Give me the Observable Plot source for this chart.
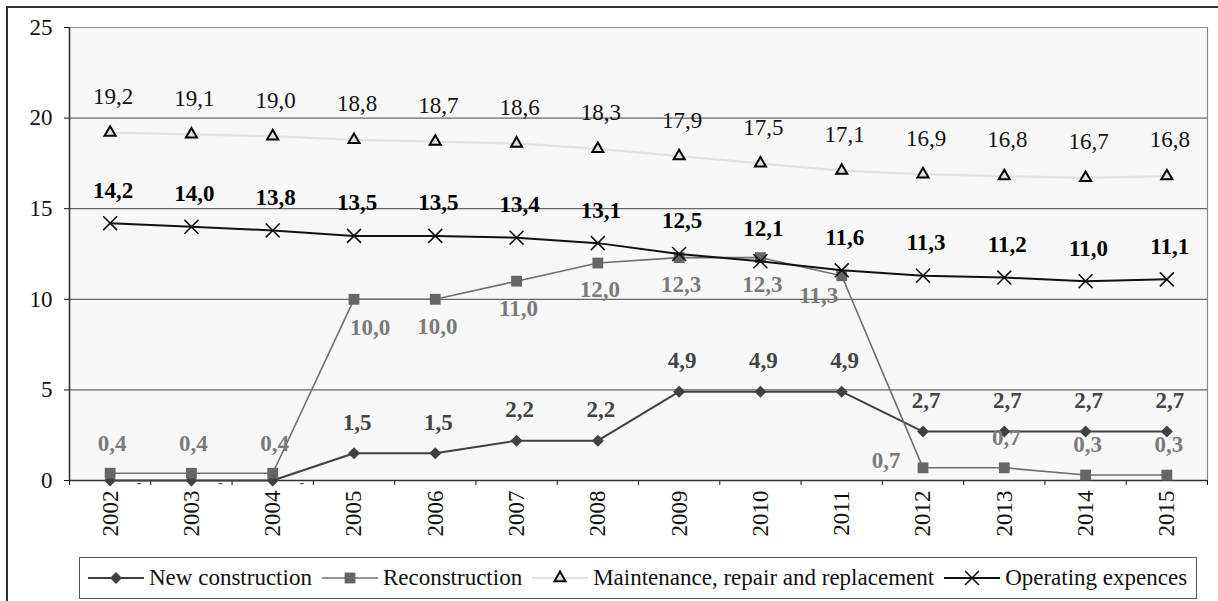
<!DOCTYPE html>
<html>
<head>
<meta charset="utf-8">
<script src="https://cdn.jsdelivr.net/npm/d3@7"></script>
<script src="https://cdn.jsdelivr.net/npm/@observablehq/plot@0.6"></script>
<style>
  html, body { margin: 0; padding: 0; background: #fff; overflow: hidden; }
  body { width: 1218px; height: 601px; position: relative; font-family: "Liberation Serif", "Times New Roman", serif; }
  #frame { position: absolute; left: 6px; top: 6px; width: 1300px; height: 700px; border-left: 2px solid #333; border-top: 2px solid #333; }
  #chart { position: absolute; left: 0; top: 0; }
  #legend { position: absolute; left: 79px; top: 557px; width: 1116px; height: 40px; border: 1px solid #555; background: #fff;
            display: flex; align-items: center; box-sizing: content-box; font-size: 23px; color: #111; white-space: nowrap; }
  .item { display: flex; align-items: center; margin-left: 8px; }
  .item svg { display: block; margin-right: 5px; }
  .item + .item { margin-left: 10px; }
</style>
</head>
<body>
<div id="frame"></div>
<div id="chart"></div>
<div id="legend"></div>
<script>
// Annual values by year (comma used as decimal separator in labels)
const years = [2002, 2003, 2004, 2005, 2006, 2007, 2008, 2009, 2010, 2011, 2012, 2013, 2014, 2015];
const newConstruction = [0, 0, 0, 1.5, 1.5, 2.2, 2.2, 4.9, 4.9, 4.9, 2.7, 2.7, 2.7, 2.7];
const reconstruction = [0.4, 0.4, 0.4, 10.0, 10.0, 11.0, 12.0, 12.3, 12.3, 11.3, 0.7, 0.7, 0.3, 0.3];
const maintenance = [19.2, 19.1, 19.0, 18.8, 18.7, 18.6, 18.3, 17.9, 17.5, 17.1, 16.9, 16.8, 16.7, 16.8];
const operating = [14.2, 14.0, 13.8, 13.5, 13.5, 13.4, 13.1, 12.5, 12.1, 11.6, 11.3, 11.2, 11.0, 11.1];
const seriesNames = ["New construction", "Reconstruction", "Maintenance, repair and replacement", "Operating expences"];
const yTicks = [0, 5, 10, 15, 20, 25];

const FONT = "Liberation Serif, Times New Roman, serif";
const fmt = v => d3.format(".1f")(v).replace(".", ",");
const rows = vals => years.map((year, i) => ({year, value: vals[i]}));

const nc = rows(newConstruction);
const mt = rows(maintenance);
const op = rows(operating);
// Reconstruction labels sit below the high plateau, and beside the points around the steep jumps
const rc = rows(reconstruction).map((d, i, a) => {
  const prev = i > 0 ? a[i - 1].value : d.value;
  const next = i < a.length - 1 ? a[i + 1].value : d.value;
  let place = "above";
  if (d.value - next > 5) place = "beforeDrop";
  else if (prev - d.value > 5) place = "afterDrop";
  else if (d.value - prev > 5) place = "afterRise";
  else if (d.value >= 10) place = "below";
  return {...d, place};
});

// Style of each series: line colour, marker symbol and marker look
const styles = [
  {line: "#404040", width: 2, symbol: "diamond2", r: 5.4, fill: "#404040", stroke: "none", sw: 0},
  {line: "#6e6e6e", width: 1.6, symbol: "square", r: 6.1, fill: "#666", stroke: "none", sw: 0},
  {line: "#e2e2e2", width: 2.2, symbol: "triangle2", r: 5.3, fill: "#e0e0e0", stroke: "#000", sw: 2},
  {line: "#111", width: 2, symbol: "times", r: 6.4, fill: "none", stroke: "#111", sw: 1.6}
];
const data = [nc, rc, mt, op];

const boundaries = d3.range(2001.5, 2016, 1);
const lab = {fontFamily: FONT, fontSize: 23};
const bold = {...lab, fontWeight: "bold"};

const marks = [
  Plot.frame({fill: "#f8f8f8", stroke: null}),
  Plot.ruleY([5, 10, 15, 20], {stroke: "#666", strokeWidth: 1.2}),
  Plot.ruleY([25], {stroke: "#888", strokeWidth: 1.2}),
  Plot.ruleX([2015.5], {stroke: "#888", strokeWidth: 1.2}),
  Plot.axisY({ticks: yTicks, tickSize: 5, tickPadding: 12, tickFormat: d => String(d), fontSize: 23, fontFamily: FONT, label: null}),
  Plot.axisX({ticks: boundaries, tickSize: 5, tickFormat: () => "", label: null}),
  Plot.axisX({ticks: years, tickSize: 0, tickPadding: 10, tickRotate: -90, tickFormat: d => String(d), fontSize: 23, fontFamily: FONT, label: null}),
  Plot.ruleX([2001.5], {stroke: "#333", strokeWidth: 1.6}),
  Plot.ruleY([0], {stroke: "#333", strokeWidth: 1.6})
];

data.forEach((rowsOf, k) => {
  const s = styles[k];
  marks.push(Plot.line(rowsOf, {x: "year", y: "value", stroke: s.line, strokeWidth: s.width}));
  marks.push(Plot.dot(rowsOf, {x: "year", y: "value", symbol: s.symbol, r: s.r, fill: s.fill, stroke: s.stroke, strokeWidth: s.sw}));
});

// Data labels
const grey = "#7a7a7a";
marks.push(
  Plot.text(mt, {x: "year", y: "value", text: d => fmt(d.value), dx: 3, dy: -36, fill: "#111", ...lab}),
  Plot.text(op, {x: "year", y: "value", text: d => fmt(d.value), dx: 3, dy: -33, fill: "#000", ...bold}),
  Plot.text(nc, {filter: d => d.value !== 0, x: "year", y: "value", text: d => fmt(d.value), dx: 3, dy: -31, fill: "#444", ...bold}),
  Plot.text(nc, {filter: d => d.value === 0, x: "year", y: "value", text: () => "-", dx: 29, dy: 2, fill: "#555", ...bold, fontSize: 14}),
  Plot.text(rc, {filter: d => d.place === "above", x: "year", y: "value", text: d => fmt(d.value), dx: 2, dy: -30, fill: grey, ...bold}),
  Plot.text(rc, {filter: d => d.place === "below", x: "year", y: "value", text: d => fmt(d.value), dx: 2, dy: 27, fill: grey, ...bold}),
  Plot.text(rc, {filter: d => d.place === "afterRise", x: "year", y: "value", text: d => fmt(d.value), dx: 16, dy: 28, fill: grey, ...bold}),
  Plot.text(rc, {filter: d => d.place === "beforeDrop", x: "year", y: "value", text: d => fmt(d.value), dx: -23, dy: 20, fill: grey, ...bold}),
  Plot.text(rc, {filter: d => d.place === "afterDrop", x: "year", y: "value", text: d => fmt(d.value), dx: -37, dy: -7, fill: grey, ...bold})
);

const chart = Plot.plot({
  width: 1218,
  height: 550,
  marginLeft: 69,
  marginRight: 11,
  marginTop: 27,
  marginBottom: 70,
  x: {type: "linear", domain: [2001.5, 2015.5], label: null},
  y: {domain: [0, 25], label: null},
  style: {fontFamily: FONT, fontSize: "23px", color: "#111", background: "transparent", overflow: "visible"},
  marks
});
document.getElementById("chart").appendChild(chart);

// Legend: line sample with the series marker, then the series name
const legend = d3.select("#legend");
seriesNames.forEach((name, k) => {
  const s = styles[k];
  const item = legend.append("div").attr("class", "item");
  const svg = item.append("svg").attr("width", 56).attr("height", 20);
  svg.append("line").attr("x1", 0).attr("x2", 56).attr("y1", 10).attr("y2", 10)
    .attr("stroke", s.line).attr("stroke-width", s.width);
  const sym = {diamond2: d3.symbolDiamond2, square: d3.symbolSquare, triangle2: d3.symbolTriangle2, times: d3.symbolTimes}[s.symbol];
  svg.append("path").attr("transform", "translate(28,10)")
    .attr("d", d3.symbol(sym, Math.PI * s.r * s.r)())
    .attr("fill", s.fill).attr("stroke", s.stroke).attr("stroke-width", s.sw);
  item.append("span").text(name);
});
</script>
</body>
</html>
